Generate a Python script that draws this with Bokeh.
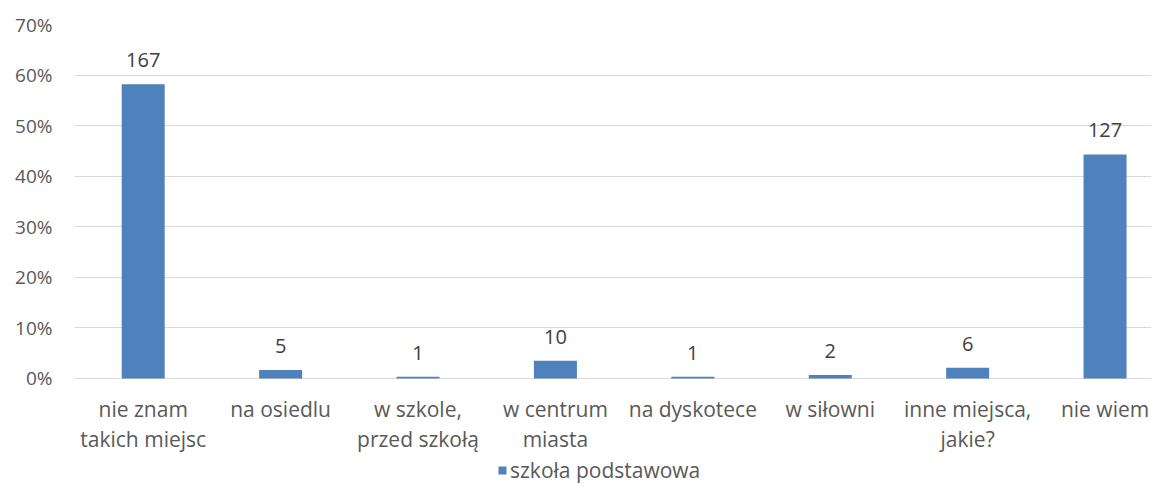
from bokeh.plotting import figure
from bokeh.models import (ColumnDataSource, Range1d, FixedTicker, PrintfTickFormatter,
                          Legend, LegendItem)
from bokeh.core.properties import value
from bokeh.embed import file_html
from bokeh.resources import INLINE

categories = ["nie znam\ntakich miejsc", "na osiedlu", "w szkole,\nprzed szkołą",
              "w centrum\nmiasta", "na dyskotece", "w siłowni",
              "inne miejsca,\njakie?", "nie wiem"]
percent = [58.2, 1.7, 0.35, 3.5, 0.35, 0.7, 2.1, 44.3]
counts = ["167", "5", "1", "10", "1", "2", "6", "127"]
series_name = "szkoła podstawowa"
y_ticks = [0, 10, 20, 30, 40, 50, 60, 70]

FONT = "Open Sans"
BAR = "#4f81bd"

xs = list(range(len(categories)))
src = ColumnDataSource(dict(x=xs, pct=percent, lab=counts,
                            cat=categories, zero=[0] * len(xs)))

# frame spans to the bottom edge; 0% sits 107 px above it (5.057 px per %)
p = figure(width=1151, height=485, output_backend="svg", toolbar_location=None,
           x_range=Range1d(-0.5, 7.338), y_range=Range1d(-21.16, 70),
           min_border_left=74, min_border_right=0, min_border_top=24,
           min_border_bottom=0)
p.outline_line_color = None
p.background_fill_color = "white"
p.border_fill_color = "white"
p.xaxis.visible = False

r = p.vbar(x="x", top="pct", width=0.313, source=src, fill_color=BAR,
           line_color=None)

# value labels above the bars
p.text(x="x", y="pct", text="lab", source=src, text_align="center",
       text_baseline="alphabetic", y_offset=-24, text_color="#404040",
       text_font=value(FONT), text_font_size="20px")

# category labels under the 0% line
p.text(x="x", y="zero", text="cat", source=src, text_align="center",
       text_baseline="top", y_offset=17, text_color="#595959",
       text_font=value(FONT), text_font_size="21px", text_line_height=1.05)

# y axis
p.yaxis.ticker = FixedTicker(ticks=y_ticks)
p.yaxis.formatter = PrintfTickFormatter(format="%d%%")
p.yaxis.axis_line_color = None
p.yaxis.major_tick_line_color = None
p.yaxis.minor_tick_line_color = None
p.yaxis.major_tick_out = 0
p.yaxis.major_tick_in = 0
p.yaxis.major_label_standoff = 22
p.yaxis.major_label_text_font = FONT
p.yaxis.major_label_text_font_size = "19px"
p.yaxis.major_label_text_color = "#595959"

p.xgrid.grid_line_color = None
p.ygrid.ticker = FixedTicker(ticks=y_ticks)
p.ygrid.grid_line_color = "#d9d9d9"
p.ygrid.grid_line_width = 1

legend = Legend(items=[LegendItem(label=series_name, renderers=[r])],
                location=(423, 1), orientation="horizontal",
                padding=0, margin=0, spacing=0,
                glyph_width=10, glyph_height=10, label_standoff=3,
                label_text_font=FONT, label_text_font_size="21px",
                label_text_color="#595959", label_height=20,
                border_line_color=None, background_fill_alpha=0)
p.add_layout(legend, "center")

open("out.html", "w").write(file_html(p, INLINE))
